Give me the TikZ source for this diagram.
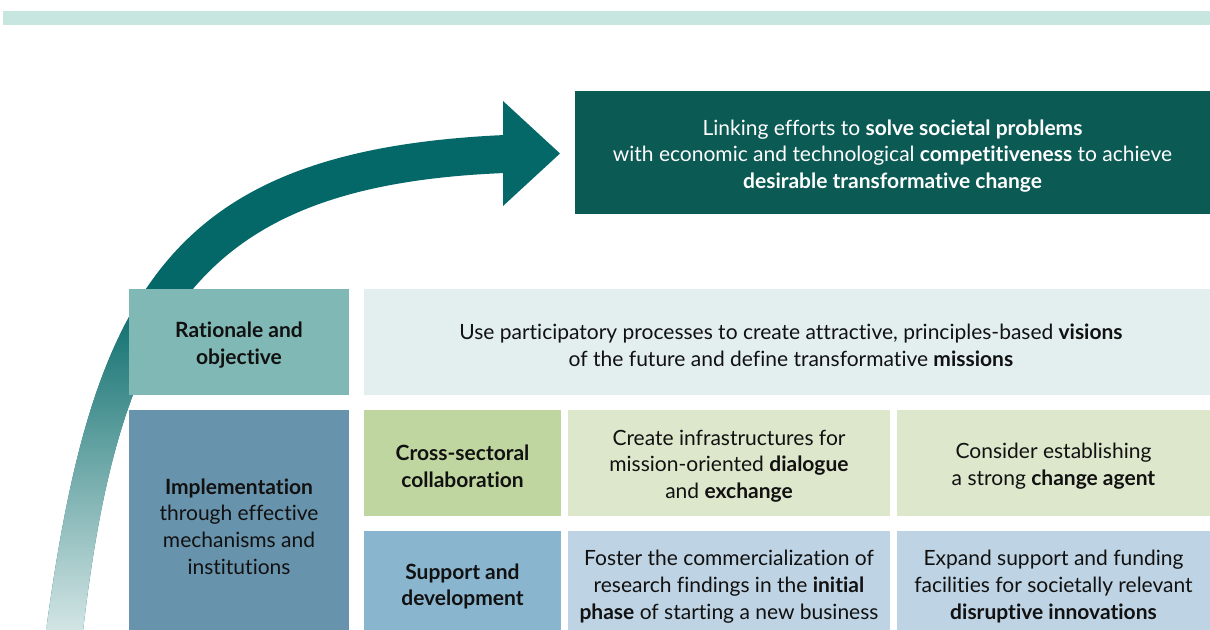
\documentclass[tikz,border=0pt]{standalone}
\usepackage{fontspec}
\setmainfont{Lato}[Ligatures=NoCommon]
\definecolor{topbar}{HTML}{C8E6E0}
\definecolor{darkbox}{HTML}{0B5A54}
\definecolor{arrowteal}{HTML}{046868}
\definecolor{arrowlight}{HTML}{D3E5E5}
\definecolor{ratc}{HTML}{7FB8B4}
\definecolor{visc}{HTML}{E2EFEE}
\definecolor{impc}{HTML}{6893AC}
\definecolor{crossc}{HTML}{C0D6A0}
\definecolor{greenl}{HTML}{DCE7CB}
\definecolor{suppc}{HTML}{8AB5CF}
\definecolor{bluel}{HTML}{BED3E3}
\definecolor{txt}{HTML}{111111}
\begin{document}
\begin{tikzpicture}[x=0.5pt,y=-0.5pt,
  box/.style={draw=none, inner sep=0pt, outer sep=0pt, anchor=north west},
  label text/.style={inner sep=0pt, outer sep=0pt, align=center, text=txt, font=\fontsize{10.5}{13.35}\selectfont},
  wh/.style 2 args={minimum width=#1*0.5pt, minimum height=#2*0.5pt}]
\useasboundingbox (0,0) rectangle (1210,630);
\fill[white] (0,0) rectangle (1210,630);
\node[box, fill=topbar, wh={1207}{14}] (bar) at (3,11) {};
% curved arrow
\begin{scope}
\path[clip] (46,631) .. controls (92,290) and (170,150) .. (505,135) -- (505,173) .. controls (205,185) and (120,310) .. (83,631) -- cycle;
\fill[arrowteal] (0,100) rectangle (600,631);
\shade[top color=arrowteal, bottom color=arrowlight] (0,290) rectangle (600,631);
\end{scope}
\fill[arrowteal] (503,101) -- (560,153.5) -- (503,206) -- cycle;
% boxes
\node[box, fill=darkbox, wh={635}{123}] (goal) at (575,91) {};
\node[box, fill=ratc, wh={220}{106}] (rat) at (129,289) {};
\node[box, fill=visc, wh={846}{106}] (vis) at (364,289) {};
\node[box, fill=impc, wh={220}{225}] (imp) at (129,410) {};
\node[box, fill=crossc, wh={197}{106}] (cross) at (364,410) {};
\node[box, fill=greenl, wh={322}{106}] (infra) at (568,410) {};
\node[box, fill=greenl, wh={313}{106}] (agent) at (897,410) {};
\node[box, fill=suppc, wh={197}{104}] (supp) at (364,531) {};
\node[box, fill=bluel, wh={322}{104}] (foster) at (568,531) {};
\node[box, fill=bluel, wh={313}{104}] (expand) at (897,531) {};
% texts
\node[label text, text=white] (goal-t) at ([yshift=-1.75pt]goal.center) {Linking efforts to \textbf{solve societal problems}\\with economic and technological \textbf{competitiveness} to achieve\\\textbf{desirable transformative change}};
\node[label text] (rat-t) at ([yshift=-1.5pt]rat.center) {\textbf{Rationale and}\\\textbf{objective}};
\node[label text] (vis-t) at ([xshift=2pt,yshift=-1.5pt]vis.center) {Use participatory processes to create attractive, principles-based \textbf{visions}\\of the future and define transformative \textbf{missions}};
\node[label text] (imp-t) at ([yshift=-2pt]imp.center) {\textbf{Implementation}\\through effective\\mechanisms and\\institutions};
\node[label text] (cross-t) at ([yshift=-1.5pt]cross.center) {\textbf{Cross-sectoral}\\\textbf{collaboration}};
\node[label text] (infra-t) at ([yshift=-1.5pt]infra.center) {Create infrastructures for\\mission-oriented \textbf{dialogue}\\and \textbf{exchange}};
\node[label text] (agent-t) at ([yshift=-1.5pt]agent.center) {Consider establishing\\a strong \textbf{change agent}};
\node[label text] (supp-t) at ([yshift=-1.75pt]supp.center) {\textbf{Support and}\\\textbf{development}};
\node[label text] (foster-t) at ([yshift=-1.75pt]foster.center) {Foster the commercialization of\\research findings in the \textbf{initial}\\\textbf{phase} of starting a new business};
\node[label text] (expand-t) at ([yshift=-1.75pt]expand.center) {Expand support and funding\\facilities for societally relevant\\\textbf{disruptive innovations}};
\end{tikzpicture}
\end{document}
